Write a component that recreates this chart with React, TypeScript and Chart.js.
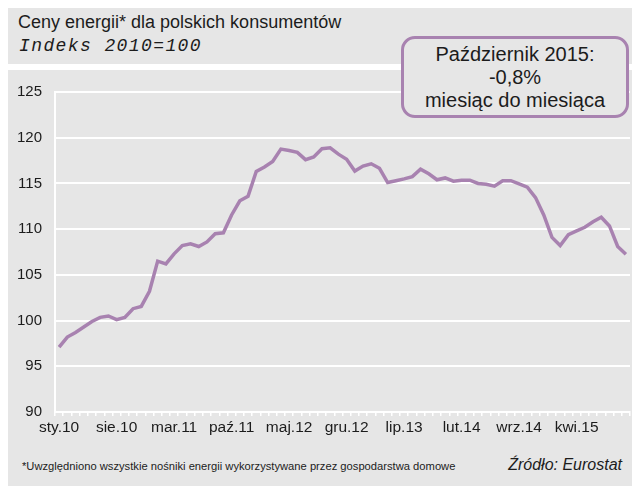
import React, { useEffect, useRef } from "react";
import { Chart, registerables } from "chart.js";

Chart.register(...registerables);

const monthAbbr = ["sty", "lut", "mar", "kwi", "maj", "cze", "lip", "sie", "wrz", "paź", "lis", "gru"];
const years = [10, 11, 12, 13, 14, 15];
const categories: string[] = [];
for (const y of years) {
  for (const m of monthAbbr) {
    if (categories.length < 70) categories.push(`${m}.${y}`);
  }
}

const energyIndex = [
  97.1, 98.2, 98.7, 99.3, 99.9, 100.35, 100.5, 100.1, 100.35, 101.3, 101.55, 103.2,
  106.5, 106.2, 107.3, 108.2, 108.4, 108.1, 108.6, 109.5, 109.6, 111.55, 113.1, 113.6,
  116.3, 116.8, 117.4, 118.75, 118.6, 118.4, 117.6, 117.9, 118.8, 118.9, 118.2, 117.65,
  116.35, 116.9, 117.15, 116.65, 115.1, 115.3, 115.5, 115.75, 116.55, 116.05, 115.4, 115.6,
  115.25, 115.35, 115.35, 115.0, 114.9, 114.7, 115.3, 115.3, 114.95, 114.6, 113.45, 111.55,
  109.1, 108.2, 109.4, 109.8, 110.2, 110.8, 111.3, 110.35, 108.1, 107.25,
];

const yMin = 90;
const yMax = 125;
const yStep = 5;
const labelEvery = 7;

const titleText = "Ceny energii* dla polskich konsumentów";
const subtitleText = "Indeks 2010=100";
const calloutLines = ["Październik 2015:", "-0,8%", "miesiąc do miesiąca"];
const footnoteText = "*Uwzględniono wszystkie nośniki energii wykorzystywane przez gospodarstwa domowe";
const sourceText = "Źródło: Eurostat";

const GRAY = "#e6e6e6";
const PURPLE = "#a882b0";
const TEXT = "#1c1c1c";

export default function App() {
  const canvasRef = useRef<HTMLCanvasElement | null>(null);

  useEffect(() => {
    if (!canvasRef.current) return;
    const chart = new Chart(canvasRef.current, {
      type: "line",
      data: {
        labels: categories,
        datasets: [
          {
            data: energyIndex,
            borderColor: PURPLE,
            borderWidth: 3.5,
            pointRadius: 0,
            tension: 0,
            fill: false,
          },
        ],
      },
      options: {
        animation: false,
        responsive: false,
        devicePixelRatio: 1,
        layout: { padding: { left: 0, right: 2, top: 20, bottom: 0 } },
        plugins: { legend: { display: false }, tooltip: { enabled: false } },
        scales: {
          x: {
            type: "category",
            offset: true,
            grid: {
              display: true,
              drawOnChartArea: false,
              drawTicks: true,
              tickLength: 4,
              color: "#ffffff",
              lineWidth: 1.5,
              offset: true,
            },
            border: { display: true, color: "#ffffff", width: 2 },
            ticks: {
              autoSkip: false,
              maxRotation: 0,
              minRotation: 0,
              padding: 2,
              color: TEXT,
              font: { family: "'Liberation Sans', Arial, sans-serif", size: 15.5 },
              callback: (_v: any, i: number) => (i % labelEvery === 0 ? categories[i] : ""),
            },
            afterFit: (scale: any) => {
              scale.height = 30;
            },
          },
          y: {
            min: yMin,
            max: yMax,
            ticks: {
              stepSize: yStep,
              padding: 13,
              color: TEXT,
              font: { family: "'Liberation Sans', Arial, sans-serif", size: 15 },
            },
            grid: { color: "#ffffff", lineWidth: 2, drawTicks: false },
            border: { display: true, color: "#ffffff", width: 2 },
            afterFit: (scale: any) => {
              scale.width = 55;
            },
          },
        },
      },
    });
    return () => chart.destroy();
  }, []);

  return (
    <div style={{ position: "fixed", left: 0, top: 0, width: 632, height: 486, background: "#ffffff", overflow: "hidden", fontFamily: "'Liberation Sans', Arial, sans-serif", color: TEXT }}>
      <div style={{ position: "absolute", left: 8, top: 8, width: 624, height: 56, background: GRAY }} />
      <div style={{ position: "absolute", left: 8, top: 70, width: 624, height: 416, background: GRAY }} />
      <div style={{ position: "absolute", left: 18, top: 11, fontSize: 18, whiteSpace: "nowrap", lineHeight: "22px" }}>{titleText}</div>
      <div style={{ position: "absolute", left: 19, top: 35, fontSize: 18, fontStyle: "italic", fontFamily: "'Liberation Mono', 'DejaVu Sans Mono', monospace", letterSpacing: 1.4, whiteSpace: "nowrap", lineHeight: "22px" }}>{subtitleText}</div>
      <canvas ref={canvasRef} width={632} height={372} style={{ position: "absolute", left: 0, top: 70, width: 632, height: 372 }} />
      <div style={{ position: "absolute", left: 401, top: 36, width: 222, height: 76, border: `3px solid ${PURPLE}`, borderRadius: 14, background: GRAY, display: "flex", flexDirection: "column", alignItems: "center", justifyContent: "center", fontSize: 20, lineHeight: "23px" }}>
        {calloutLines.map((l, i) => (
          <div key={i}>{l}</div>
        ))}
      </div>
      <div style={{ position: "absolute", left: 22, top: 459, fontSize: 11.2, whiteSpace: "nowrap", lineHeight: "14px" }}>{footnoteText}</div>
      <div style={{ position: "absolute", right: 10, top: 456, fontSize: 16, fontStyle: "italic", whiteSpace: "nowrap", lineHeight: "18px" }}>{sourceText}</div>
    </div>
  );
}
